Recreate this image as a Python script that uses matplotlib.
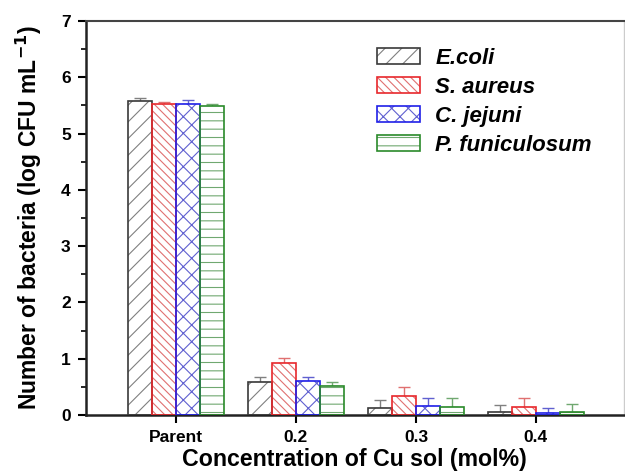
import matplotlib
matplotlib.use("Agg")
import matplotlib.pyplot as plt
from matplotlib.patches import Patch
import numpy as np

plt.rcParams['font.family'] = ['Liberation Sans', 'DejaVu Sans']
plt.rcParams['font.weight'] = 'bold'
plt.rcParams['hatch.linewidth'] = 0.8

# data
groups = ['Parent', '0.2', '0.3', '0.4']
species = ['E.coli', 'S. aureus', 'C. jejuni', 'P. funiculosum']
ecoli = [5.57, 0.59, 0.12, 0.06]
saureus = [5.52, 0.92, 0.34, 0.14]
cjejuni = [5.53, 0.60, 0.155, 0.03]
pfun = [5.49, 0.51, 0.14, 0.05]
ecoli_err = [0.06, 0.08, 0.15, 0.11]
saureus_err = [0.035, 0.085, 0.15, 0.17]
cjejuni_err = [0.06, 0.08, 0.15, 0.09]
pfun_err = [0.04, 0.08, 0.17, 0.15]

values = [ecoli, saureus, cjejuni, pfun]
errors = [ecoli_err, saureus_err, cjejuni_err, pfun_err]
edge_colors = ['#3a3a3a', '#e8282c', '#2020e8', '#2a8a2a']
hatch_colors = ['#808080', '#e07070', '#6060d0', '#70a870']
hatches = ['//', '\\\\\\\\', 'xx', '--']

fig = plt.figure(figsize=(6.25, 4.73), dpi=100)
ax = fig.add_axes([0.1376, 0.1226, 0.8600, 0.833])

x = np.arange(1, len(groups) + 1)
w = 0.2
for i in range(4):
    pos = x + (i - 1.5) * w
    ax.bar(pos, values[i], width=w, color='white', edgecolor=hatch_colors[i],
           hatch=hatches[i], linewidth=0, zorder=2)
    # outline drawn separately so the hatch can stay lighter
    ax.bar(pos, values[i], width=w, color='none', edgecolor=edge_colors[i],
           linewidth=1.2, zorder=3)
    ax.errorbar(pos, values[i], yerr=[np.zeros(4), errors[i]], fmt='none',
                ecolor=hatch_colors[i], elinewidth=1.0, capsize=4, capthick=1.0, zorder=1)

handles = [Patch(facecolor='white', edgecolor=edge_colors[i], hatch=hatches[i], linewidth=1.2)
           for i in range(4)]
for h, hc in zip(handles, hatch_colors):
    h._hatch_color = matplotlib.colors.to_rgba(hc)
ax.legend(handles, species, loc='upper left', bbox_to_anchor=(0.541, 0.932),
          frameon=False, borderpad=0, borderaxespad=0,
          handlelength=1.95, handleheight=0.75, labelspacing=0.36,
          handletextpad=0.68, prop={'size': 16, 'weight': 'bold', 'style': 'italic'})

ax.set_xlim(0.25, 4.73)
ax.set_ylim(0, 7)
ax.set_xticks(x)
ax.set_xticklabels(groups)
ax.set_yticks(range(0, 8))
ax.set_yticks(np.arange(0.5, 7, 1), minor=True)
ax.tick_params(axis='both', which='major', direction='out', length=6, width=1.5,
               labelsize=12.5, pad=5)
ax.tick_params(axis='y', which='minor', direction='out', length=3.5, width=1.2)
ax.set_xlabel('Concentration of Cu sol (mol%)', fontsize=16.7, fontweight='bold', labelpad=2)
ax.set_ylabel('Number of bacteria (log CFU mL$^{\\mathbf{-1}}$)', fontsize=16.5,
              fontweight='bold', labelpad=12)

ax.spines['left'].set_linewidth(1.8)
ax.spines['bottom'].set_linewidth(1.8)
ax.spines['left'].set_color('#222222')
ax.spines['bottom'].set_color('#222222')
ax.spines['top'].set_linewidth(1.5)
ax.spines['top'].set_color('#444444')
ax.spines['right'].set_linewidth(1.0)
ax.spines['right'].set_color('#cccccc')

fig.savefig('out.png', dpi=100)
